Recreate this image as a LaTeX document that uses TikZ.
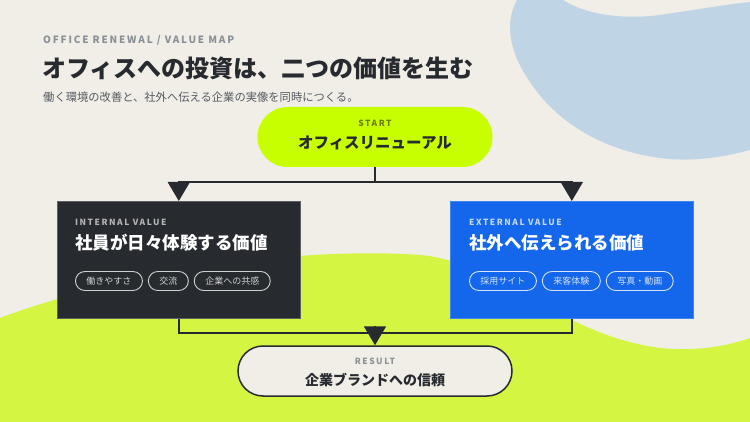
\documentclass[tikz,border=0pt]{standalone}
\usepackage{fontspec}
\setmainfont{Noto Sans CJK JP}
\newfontfamily\capsfont[LetterSpace=18]{Noto Sans CJK JP}
\usepackage{tikz}
\usetikzlibrary{arrows.meta,positioning}
\definecolor{paper}{HTML}{F0EEE6}
\definecolor{skyblob}{HTML}{BFD4E4}
\definecolor{limeblob}{HTML}{D4F542}
\definecolor{startlime}{HTML}{C8FF00}
\definecolor{inkdark}{HTML}{272A2F}
\definecolor{valueblue}{HTML}{1466EA}
\definecolor{capgray}{HTML}{8A9098}
\definecolor{subgray}{HTML}{565B62}
\definecolor{olivetext}{HTML}{6C7D00}
\tikzset{
  textnode/.style={inner sep=0pt,text=inkdark},
  capnode/.style={inner sep=0pt,font=\capsfont\bfseries\fontsize{8.5}{10}\selectfont},
  pillnode/.style={rounded corners=#1,inner sep=0pt},
  valuebox/.style={anchor=north west,minimum width=243pt,minimum height=117pt,inner sep=0pt,line width=0.6pt},
  chipnode/.style={draw=#1,text=#1,rounded corners=9.5pt,line width=0.9pt,minimum height=19pt,inner xsep=11pt,inner ysep=0pt,font=\fontsize{9}{10}\selectfont},
  flowline/.style={draw=inkdark,line width=1.8pt},
  flowarrow/.style={flowline,-{Triangle[width=22pt,length=19pt]}},
}

\begin{document}
\begin{tikzpicture}[x=1pt,y=-1pt,node distance=5pt]
  \fill[paper] (0,0) rectangle (750,422);
  \useasboundingbox (0,0) rectangle (750,422);
  % background shapes
  \fill[skyblob] (517,0) -- (563,0) .. controls (585,14) and (620,20) .. (660,15)
    .. controls (700,9) and (730,4) .. (750,2) -- (750,150)
    .. controls (720,158) and (690,162) .. (660,158)
    .. controls (600,150) and (555,120) .. (530,82)
    .. controls (508,50) and (505,22) .. (517,0) -- cycle;
  \fill[limeblob] (0,318) .. controls (100,280) and (280,245) .. (420,255)
    .. controls (500,262) and (560,335) .. (660,348)
    .. controls (700,352) and (730,345) .. (750,338) -- (750,422) -- (0,422) -- cycle;

  \node[capnode,text=capgray,anchor=west,font=\capsfont\bfseries\fontsize{10}{12}\selectfont] (kicker) at (43,40) {OFFICE RENEWAL / VALUE MAP};
  \node[textnode,anchor=west,font=\bfseries\fontsize{24}{28}\selectfont] (title) at (42,68) {オフィスへの投資は、二つの価値を生む};
  \node[textnode,anchor=west,text=subgray,font=\fontsize{11.3}{13}\selectfont] (lead) at (43,97) {働く環境の改善と、社外へ伝える企業の実像を同時につくる。};

  \node[pillnode=30pt,fill=startlime,minimum width=235pt,minimum height=60pt] (start) at (375,137) {};
  \node[capnode,text=olivetext] (startcap) at (375,123) {START};
  \node[textnode,font=\bfseries\fontsize{15.5}{18}\selectfont] (starttext) at (375,143) {オフィスリニューアル};

  \node[valuebox,fill=inkdark,draw=inkdark!75!white] (internal) at (57,201) {};
  \node[capnode,text=white!65!inkdark,anchor=west] (intcap) at (75,222) {INTERNAL VALUE};
  \node[textnode,text=white,anchor=west,font=\bfseries\fontsize{17.5}{20}\selectfont] (inttext) at (75,243) {社員が日々体験する価値};
  \node[chipnode=white!78!inkdark,anchor=west] (chipa) at (75,281) {働きやすさ};
  \node[chipnode=white!78!inkdark,right=of chipa] (chipb) {交流};
  \node[chipnode=white!78!inkdark,right=of chipb] (chipc) {企業への共感};

  \node[valuebox,fill=valueblue,draw=valueblue!80!white] (external) at (450,201) {};
  \node[capnode,text=white!75!valueblue,anchor=west] (extcap) at (469,222) {EXTERNAL VALUE};
  \node[textnode,text=white,anchor=west,font=\bfseries\fontsize{17.5}{20}\selectfont] (exttext) at (469,243) {社外へ伝えられる価値};
  \node[chipnode=white!82!valueblue,anchor=west] (chipd) at (469,281) {採用サイト};
  \node[chipnode=white!82!valueblue,right=of chipd] (chipe) {来客体験};
  \node[chipnode=white!82!valueblue,right=of chipe] (chipf) {写真・動画};

  \node[pillnode=25pt,fill=paper,draw=inkdark,line width=1.5pt,minimum width=274pt,minimum height=50pt] (result) at (375,371) {};
  \node[capnode,text=capgray] (resultcap) at (375,361) {RESULT};
  \node[textnode,font=\bfseries\fontsize{14}{17}\selectfont] (resulttext) at (375,380) {企業ブランドへの信頼};

  \coordinate (split) at (375,182);
  \coordinate (merge) at (375,333);
  \coordinate (drop) at (375,326);
  \draw[flowline] (start.south) -- (split);
  \draw[flowarrow] (split) -| (internal.north);
  \draw[flowarrow] (split) -| (external.north);
  \draw[flowline] (internal.south) |- (merge) -| (external.south);
  \draw[flowarrow] (drop) -- (result.north);
\end{tikzpicture}
\end{document}
